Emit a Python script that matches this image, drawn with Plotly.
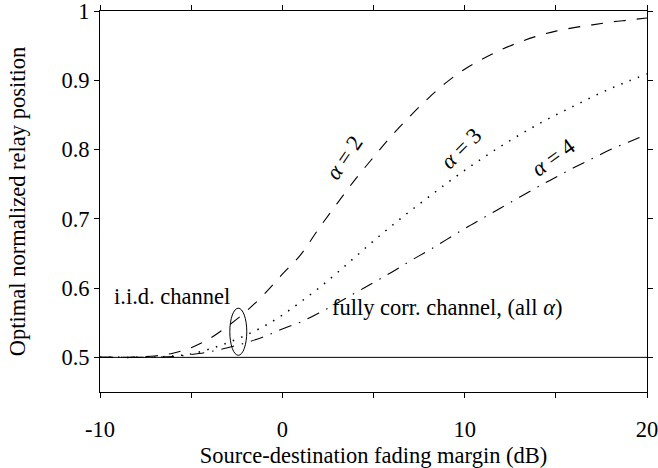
import plotly.graph_objects as go

x_db = list(range(-10, 21))
alpha2 = [0.500, 0.500, 0.5005, 0.502, 0.506, 0.514, 0.527, 0.545, 0.566, 0.591, 0.620,
          0.648, 0.686, 0.722, 0.757, 0.789, 0.820, 0.848, 0.874, 0.897, 0.916,
          0.931, 0.944, 0.955, 0.964, 0.971, 0.976, 0.980, 0.984, 0.987, 0.990]
alpha3 = [0.500, 0.500, 0.500, 0.5005, 0.502, 0.505, 0.512, 0.521, 0.532, 0.545, 0.561,
          0.580, 0.600, 0.622, 0.645, 0.668, 0.690, 0.711, 0.731, 0.751, 0.770,
          0.788, 0.805, 0.821, 0.836, 0.850, 0.863, 0.876, 0.888, 0.899, 0.909]
alpha4 = [0.500, 0.500, 0.500, 0.5003, 0.501, 0.504, 0.508, 0.514, 0.521, 0.530, 0.541,
          0.551, 0.564, 0.578, 0.593, 0.608, 0.623, 0.639, 0.654, 0.670, 0.686,
          0.701, 0.716, 0.731, 0.746, 0.760, 0.774, 0.787, 0.800, 0.811, 0.822]
fully_corr = [0.5] * len(x_db)

x_tickvals = [-10, -5, 0, 5, 10, 15, 20]
x_ticktext = ["-10", "", "0", "", "10", "", "20"]
y_tickvals = [0.5, 0.6, 0.7, 0.8, 0.9, 1.0]
y_ticktext = ["0.5", "0.6", "0.7", "0.8", "0.9", "1"]

FONT = "Liberation Serif"
FS = 22.5

fig = go.Figure()
fig.add_trace(go.Scatter(x=x_db, y=fully_corr, mode="lines",
                         line=dict(color="black", width=1)))
fig.add_trace(go.Scatter(x=x_db, y=alpha2, mode="lines", line_shape="spline",
                         line=dict(color="black", width=1.1, dash="12px,11px")))
fig.add_trace(go.Scatter(x=x_db, y=alpha3, mode="lines", line_shape="spline",
                         line=dict(color="black", width=1.5, dash="1.5px,7.5px")))
fig.add_trace(go.Scatter(x=x_db, y=alpha4, mode="lines", line_shape="spline",
                         line=dict(color="black", width=1.1, dash="13px,8px,1.5px,8px")))

ann_font = dict(family=FONT, size=FS, color="black")
fig.add_annotation(x=3.4, y=0.788, text="<i>α</i> = 2", showarrow=False,
                   textangle=-56, font=ann_font)
fig.add_annotation(x=9.8, y=0.801, text="<i>α</i> = 3", showarrow=False,
                   textangle=-45, font=ann_font)
fig.add_annotation(x=14.85, y=0.788, text="<i>α</i> = 4", showarrow=False,
                   textangle=-36, font=ann_font)
fig.add_annotation(x=-9.33, y=0.588, text="i.i.d. channel", showarrow=False,
                   xanchor="left", font=ann_font)
fig.add_annotation(x=2.63, y=0.5715, text="fully corr. channel, (all <i>α</i>)",
                   showarrow=False, xanchor="left", font=ann_font)

fig.add_shape(type="circle", xref="x", yref="y", x0=-2.88, x1=-1.95, y0=0.503, y1=0.571,
              line=dict(color="black", width=1))

fig.update_layout(
    width=658, height=468,
    margin=dict(l=100, r=11, t=11, b=76),
    plot_bgcolor="white", paper_bgcolor="white",
    showlegend=False,
    font=dict(family=FONT, size=FS, color="black"),
)
fig.update_xaxes(range=[-10, 20], tickvals=x_tickvals, ticktext=x_ticktext,
                 ticks="outside", ticklen=5, tickcolor="black", tickwidth=1,
                 showline=True, linecolor="black", linewidth=1, mirror="ticks",
                 showgrid=False, zeroline=False, automargin=False,
                 ticklabelstandoff=12, ticklabeloverflow="allow",
                 title=dict(text="Source-destination fading margin (dB)", standoff=8,
                            font=dict(family=FONT, size=FS)),
                 tickfont=dict(family=FONT, size=FS))
fig.update_yaxes(range=[0.45, 1.0], tickvals=y_tickvals, ticktext=y_ticktext,
                 ticks="outside", ticklen=5, tickcolor="black", tickwidth=1,
                 showline=True, linecolor="black", linewidth=1, mirror="ticks",
                 showgrid=False, zeroline=False, automargin=False,
                 ticklabeloverflow="allow",
                 title=dict(text="Optimal normalized relay position", standoff=29,
                            font=dict(family=FONT, size=FS)),
                 tickfont=dict(family=FONT, size=FS))

fig.write_html("out.html", config={"displayModeBar": False},
               post_script="document.body.style.margin='0px';document.body.style.padding='0px';")
